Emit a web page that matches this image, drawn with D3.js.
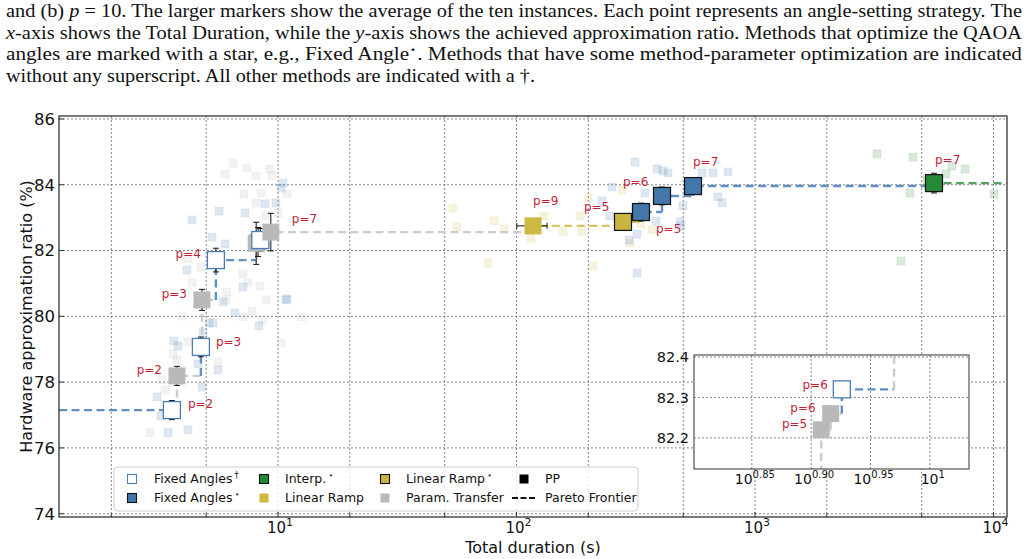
<!DOCTYPE html>
<html>
<head>
<meta charset="utf-8">
<script src="https://cdn.jsdelivr.net/npm/d3@7"></script>
<style>
  body { margin: 0; background: #fff; }
  svg { display: block; }
  text { font-family: "DejaVu Sans", sans-serif; }
  .caption { font-family: "Liberation Serif", serif; font-size: 18.5px; fill: #111; }
</style>
</head>
<body>
<div id="chart"></div>
<script>
// ---- data ----
// averaged markers: method, p, total duration (s), approx ratio (%), errors
const avgPoints = [
  { method: "faDag", p: 2, dur: 3.59, ratio: 77.15, yErr: 0.29 },
  { method: "paramTransfer", p: 2, dur: 3.77, ratio: 78.19, yErr: 0.29 },
  { method: "faDag", p: 3, dur: 4.75, ratio: 79.07, yErr: 0.30 },
  { method: "paramTransfer", p: 3, dur: 4.80, ratio: 80.50, yErr: 0.32 },
  { method: "faDag", p: 4, dur: 5.49, ratio: 81.71, yErr: 0.36 },
  { method: "paramTransfer", p: 5, dur: 8.10, ratio: 82.22, yErr: 0.64 },
  { method: "paramTransfer", p: 6, dur: 8.25, ratio: 82.26, yErr: 0.44 },
  { method: "faDag", p: 6, dur: 8.43, ratio: 82.32, yErr: 0.35 },
  { method: "paramTransfer", p: 7, dur: 9.33, ratio: 82.56, yErr: 0.57 },
  { method: "linRamp", p: 9, dur: 117.3, ratio: 82.75, yErr: 0.2, xErr: 17 },
  { method: "linRampStar", p: 5, dur: 279.6, ratio: 82.87, yErr: 0.2 },
  { method: "faStar", p: 5, dur: 332.6, ratio: 83.17, yErr: 0.27 },
  { method: "faStar", p: 6, dur: 407.5, ratio: 83.66, yErr: 0.27 },
  { method: "faStar", p: 7, dur: 549.6, ratio: 83.96, yErr: 0.25 },
  { method: "interp", p: 7, dur: 5630, ratio: 84.05, yErr: 0.30 }
];

// individual instances (faint squares): [duration, ratio]
const faDagInstances = [
  [10.49, 84.05], [10.29, 83.90], [8.82, 83.42], [9.81, 83.45], [5.66, 83.20], [7.27, 83.14],
  [4.36, 82.93], [5.29, 82.41], [6.00, 82.20], [4.15, 81.41], [7.13, 80.89], [10.91, 80.53],
  [5.88, 80.44], [10.80, 80.50], [6.60, 80.10], [8.32, 79.71], [5.14, 79.80], [5.34, 79.80],
  [3.66, 79.25], [3.81, 79.10], [4.62, 78.55], [5.60, 78.37], [4.80, 77.85], [3.11, 77.55],
  [3.23, 76.97], [3.46, 76.46], [4.19, 76.55], [4.85, 79.50]
];
const paramTransferInstances = [
  [6.48, 84.66], [7.41, 84.51], [6.00, 84.33], [8.09, 84.27], [9.26, 84.48], [9.44, 84.27],
  [7.20, 83.72], [8.49, 83.75], [8.09, 83.45], [10.91, 83.72], [10.0, 83.14], [8.91, 83.05],
  [4.19, 81.74], [4.75, 81.50], [4.36, 81.02], [7.13, 81.29], [7.48, 81.02], [8.40, 80.92],
  [6.11, 80.74], [8.91, 80.50], [3.96, 80.01], [7.78, 80.16], [7.13, 79.98], [8.65, 79.89],
  [12.6, 79.98], [6.05, 80.50], [4.19, 79.22], [3.63, 78.86], [3.77, 78.67], [5.60, 78.61],
  [3.26, 78.07], [3.36, 77.76], [2.91, 76.46], [10.29, 79.19], [2.95, 75.06]
];
const linRampInstances = [
  [54.2, 83.29], [56.3, 82.72], [80.5, 82.90], [88.6, 82.66], [75.9, 81.62], [115.0, 82.38],
  [130.5, 83.05], [156.7, 82.57], [188.2, 82.57]
];
const linRampStarInstances = [
  [184.6, 83.05], [199.5, 83.60], [209.3, 81.53], [276.9, 83.84], [299.2, 82.23], [370.0, 82.63],
  [332.7, 82.81]
];
const faStarInstances = [
  [314.0, 84.69], [388.3, 84.48], [411.5, 84.42], [431.8, 84.36], [251.4, 83.93], [345.8, 83.75],
  [599.6, 84.36], [666.6, 84.36], [770.5, 84.39], [699.6, 83.63], [727.1, 83.45], [499.0, 83.36],
  [384.6, 82.90], [484.7, 82.87], [489.4, 82.75], [320.1, 82.50], [296.3, 82.32], [320.1, 81.32],
  [228.3, 83.51], [246.6, 83.05]
];
const interpInstances = [
  [3247, 84.94], [4597, 84.84], [6320, 84.33], [6699, 84.57], [7594, 84.48], [4466, 83.75],
  [10050, 83.72], [4093, 81.68], [5262, 84.15]
];

const yTicks = [74, 76, 78, 80, 82, 84, 86];
const xGridValues = [2, 5, 10, 20, 50, 100, 200, 500, 1000, 2000, 5000, 10000];
const xMajorTicks = [10, 100, 1000, 10000];
const insetXTicks = [0.85, 0.90, 0.95, 1];   // exponents of ten
const insetYTicks = [82.2, 82.3, 82.4];
const insetPoints = [["paramTransfer", 5], ["paramTransfer", 6], ["faDag", 6]];

const legendItems = [
  { key: "faDag", label: "Fixed Angles", sup: "†" },
  { key: "faStar", label: "Fixed Angles", sup: "⋆" },
  { key: "interp", label: "Interp.", sup: "⋆" },
  { key: "linRamp", label: "Linear Ramp", sup: "" },
  { key: "linRampStar", label: "Linear Ramp", sup: "⋆" },
  { key: "paramTransfer", label: "Param. Transfer", sup: "" },
  { key: "pp", label: "PP", sup: "" },
  { key: "frontier", label: "Pareto Frontier", sup: "" }
];

const captionLines = [
  [["and (b) ", ""], ["p", "i"], [" = 10. The larger markers show the average of the ten instances. Each point represents an angle-setting strategy. The", ""]],
  [["x", "i"], ["-axis shows the Total Duration, while the ", ""], ["y", "i"], ["-axis shows the achieved approximation ratio. Methods that optimize the QAOA", ""]],
  [["angles are marked with a star, e.g., Fixed Angle", ""], ["⋆", "s"], [".  Methods that have some method-parameter optimization are indicated", ""]],
  [["without any superscript. All other methods are indicated with a †.", ""]]
];
const captionWidths = [1016, 1016, 1016, 529];

// ---- styles ----
const style = {
  faDag: { fill: "#ffffff", stroke: "#4a7db5", line: "#5f8fc4", faint: "#4a7db5" },
  faStar: { fill: "#4376a9", stroke: "#111", line: "#5f8fc4", faint: "#4a7db5" },
  interp: { fill: "#258a37", stroke: "#111", line: "#52a55f", faint: "#2a8a3a" },
  linRamp: { fill: "#cdb941", stroke: "none", line: "#d7c75e", faint: "#cdb941" },
  linRampStar: { fill: "#c9b640", stroke: "#111", line: "#d7c75e", faint: "#cdb941" },
  paramTransfer: { fill: "#b9b9b9", stroke: "none", line: "#cccccc", faint: "#b9b9b9" }
};
const labelOffsets = {
  "faDag-2": [16, -6, "start"], "paramTransfer-2": [-15, -6, "end"],
  "faDag-3": [15, -5, "start"], "paramTransfer-3": [-15, -6, "end"],
  "faDag-4": [-15, -6, "end"], "paramTransfer-7": [21, -13, "start"],
  "linRamp-9": [0, -25, "start"], "linRampStar-5": [-39, -15, "start"],
  "faStar-5": [15, 17, "start"], "faStar-6": [-39, -14, "start"],
  "faStar-7": [0, -24, "start"], "interp-7": [1, -23, "start"]
};
const insetLabelOffsets = {
  "faDag-6": [-14, -5, "end"], "paramTransfer-6": [-15, -6, "end"], "paramTransfer-5": [-14, -6, "end"]
};

const W = 1028, H = 559;
const M = { left: 59, right: 1007, top: 116, bottom: 517 };
const MS = 17;   // big marker size
const FS = 8;    // faint marker size

const svg = d3.select("#chart").append("svg").attr("width", W).attr("height", H);

// caption
captionLines.forEach((parts, i) => {
  const t = svg.append("text").attr("class", "caption")
    .attr("x", 6).attr("y", 17 + i * 21.5)
    .attr("textLength", captionWidths[i]).attr("lengthAdjust", "spacingAndGlyphs");
  let raised = false;
  parts.forEach(([s, f]) => {
    const ts = t.append("tspan").text(s);
    if (f === "i") ts.attr("font-style", "italic");
    if (f === "s") { ts.attr("font-size", 11).attr("dy", -7); raised = true; }
    else if (raised) { ts.attr("dy", 7); raised = false; }
  });
});

const x = d3.scaleLog().domain([1.207, 11393]).range([M.left, M.right]);
const y = d3.scaleLinear().domain([73.9, 86.09]).range([M.bottom, M.top]);

const plot = svg.append("g");
plot.append("clipPath").attr("id", "clipMain").append("rect")
  .attr("x", M.left).attr("y", M.top).attr("width", M.right - M.left).attr("height", M.bottom - M.top);

// grid
const grid = plot.append("g").attr("stroke", "#666").attr("stroke-width", 0.8).attr("stroke-dasharray", "2,2");
grid.selectAll("line.v").data(xGridValues).join("line")
  .attr("x1", d => x(d)).attr("x2", d => x(d)).attr("y1", M.top).attr("y2", M.bottom);
grid.selectAll("line.h").data(yTicks).join("line")
  .attr("y1", d => y(d)).attr("y2", d => y(d)).attr("x1", M.left).attr("x2", M.right);

const body = plot.append("g").attr("clip-path", "url(#clipMain)");

// faint instances
function drawInstances(g, data, key, sx, sy) {
  const c = style[key].faint;
  g.append("g").selectAll("rect").data(data).join("rect")
    .attr("x", d => sx(d[0]) - FS / 2).attr("y", d => sy(d[1]) - FS / 2)
    .attr("width", FS).attr("height", FS)
    .attr("fill", c).attr("fill-opacity", 0.18)
    .attr("stroke", c).attr("stroke-opacity", 0.1).attr("stroke-width", 1);
}
drawInstances(body, paramTransferInstances, "paramTransfer", x, y);
drawInstances(body, faDagInstances, "faDag", x, y);
drawInstances(body, linRampInstances, "linRamp", x, y);
drawInstances(body, linRampStarInstances, "linRampStar", x, y);
drawInstances(body, faStarInstances, "faStar", x, y);
drawInstances(body, interpInstances, "interp", x, y);

// pareto frontier (step)
const frontier = [];
[...avgPoints].sort((a, b) => a.dur - b.dur).forEach(d => {
  if (!frontier.length || d.ratio > frontier[frontier.length - 1].ratio) frontier.push(d);
});
function drawFrontier(g, sx, sy, xmin, xmax) {
  frontier.forEach((d, i) => {
    const next = frontier[i + 1];
    const xEnd = next ? sx(next.dur) : xmax;
    let path;
    if (i === 0) path = `M${xmin},${sy(d.ratio)} L${xEnd},${sy(d.ratio)}`;
    else path = `M${sx(d.dur)},${sy(frontier[i - 1].ratio)} L${sx(d.dur)},${sy(d.ratio)} L${xEnd},${sy(d.ratio)}`;
    g.append("path").attr("d", path).attr("fill", "none")
      .attr("stroke", style[d.method].line).attr("stroke-width", 2.4)
      .attr("stroke-dasharray", "8,4.5");
  });
}
drawFrontier(body, x, y, M.left, M.right);

// error bars
const eb = body.append("g").attr("stroke", "#111").attr("stroke-width", 1);
avgPoints.forEach(d => {
  const cx = x(d.dur), cy = y(d.ratio);
  if (d.yErr) {
    const y1 = y(d.ratio + d.yErr), y2 = y(d.ratio - d.yErr);
    eb.append("line").attr("x1", cx).attr("x2", cx).attr("y1", y1).attr("y2", y2);
    eb.append("line").attr("x1", cx - 3).attr("x2", cx + 3).attr("y1", y1).attr("y2", y1);
    eb.append("line").attr("x1", cx - 3).attr("x2", cx + 3).attr("y1", y2).attr("y2", y2);
  }
  if (d.xErr) {
    const x1 = x(d.dur - d.xErr), x2 = x(d.dur + d.xErr);
    eb.append("line").attr("x1", x1).attr("x2", x2).attr("y1", cy).attr("y2", cy);
    eb.append("line").attr("x1", x1).attr("x2", x1).attr("y1", cy - 3).attr("y2", cy + 3);
    eb.append("line").attr("x1", x2).attr("x2", x2).attr("y1", cy - 3).attr("y2", cy + 3);
  }
});

// big markers
function drawMarkers(g, data, sx, sy) {
  g.append("g").selectAll("rect").data(data).join("rect")
    .attr("x", d => sx(d.dur) - MS / 2).attr("y", d => sy(d.ratio) - MS / 2)
    .attr("width", MS).attr("height", MS)
    .attr("fill", d => style[d.method].fill)
    .attr("stroke", d => style[d.method].stroke)
    .attr("stroke-width", d => d.method === "faDag" ? 1.3 : 1.2);
}
drawMarkers(body, avgPoints, x, y);

// p labels
function drawLabels(g, offsets, sx, sy) {
  avgPoints.forEach(d => {
    const o = offsets[`${d.method}-${d.p}`];
    if (!o) return;
    g.append("text").attr("x", sx(d.dur) + o[0]).attr("y", sy(d.ratio) + o[1])
      .attr("dy", "0.35em").attr("text-anchor", o[2])
      .attr("font-size", 12).attr("fill", "#c41e3a").text(`p=${d.p}`);
  });
}
drawLabels(plot, labelOffsets, x, y);

// frame
plot.append("rect").attr("x", M.left).attr("y", M.top).attr("width", M.right - M.left)
  .attr("height", M.bottom - M.top).attr("fill", "none").attr("stroke", "#333").attr("stroke-width", 1.3);

// ticks (inward)
const tk = plot.append("g").attr("stroke", "#333").attr("stroke-width", 1);
tk.selectAll("line.x").data(xGridValues).join("line")
  .attr("x1", d => x(d)).attr("x2", d => x(d))
  .attr("y1", M.bottom).attr("y2", d => M.bottom - (xMajorTicks.includes(d) ? 5 : 3.5));
tk.selectAll("line.y").data(yTicks).join("line")
  .attr("x1", M.left).attr("x2", M.left + 5).attr("y1", d => y(d)).attr("y2", d => y(d));

plot.append("g").selectAll("text").data(yTicks).join("text")
  .attr("x", M.left - 4).attr("y", d => y(d)).attr("dy", "0.36em")
  .attr("text-anchor", "end").attr("font-size", 16.5).attr("fill", "#111").text(d => d);

const xl = plot.append("g").selectAll("text").data(xMajorTicks).join("text")
  .attr("x", d => x(d) + 2).attr("y", M.bottom + 15.5).attr("text-anchor", "middle")
  .attr("font-size", 15).attr("fill", "#111");
xl.append("tspan").text("10");
xl.append("tspan").attr("dy", -6.5).attr("font-size", 11).text(d => Math.round(Math.log10(d)));

svg.append("text").attr("transform", `translate(26,${(M.top + M.bottom) / 2}) rotate(-90)`)
  .attr("text-anchor", "middle").attr("dy", "0.35em").attr("font-size", 16).attr("fill", "#111")
  .text("Hardware approximation ratio (%)");
svg.append("text").attr("x", (M.left + M.right) / 2).attr("y", 552.5)
  .attr("text-anchor", "middle").attr("font-size", 16).attr("fill", "#111")
  .text("Total duration (s)");

// legend
const lg = svg.append("g");
lg.append("rect").attr("x", 114).attr("y", 467).attr("width", 524).attr("height", 44).attr("rx", 4)
  .attr("fill", "#fff").attr("fill-opacity", 0.8).attr("stroke", "#d0d0d0");
const colMarker = [132, 264, 385, 524], colText = [154, 285, 406, 545], rowY = [479, 498];
legendItems.forEach((d, i) => {
  const c = Math.floor(i / 2), r = i % 2;
  const mx = colMarker[c], my = rowY[r];
  if (d.key === "frontier") {
    lg.append("line").attr("x1", mx - 12).attr("x2", mx + 12).attr("y1", my).attr("y2", my)
      .attr("stroke", "#111").attr("stroke-width", 1.8).attr("stroke-dasharray", "6,2.5");
  } else {
    const s = d.key === "pp" ? { fill: "#000", stroke: "none" } : style[d.key];
    lg.append("rect").attr("x", mx - 4.5).attr("y", my - 4.5).attr("width", 9).attr("height", 9)
      .attr("fill", s.fill).attr("stroke", s.stroke).attr("stroke-width", 1.1);
  }
  const t = lg.append("text").attr("x", colText[c]).attr("y", my).attr("dy", "0.35em")
    .attr("font-size", 12.5).attr("fill", "#111");
  t.append("tspan").text(d.label);
  if (d.sup) t.append("tspan").attr("dx", 2).attr("dy", -5).attr("font-size", 8.5).text(d.sup);
});

// inset
const I = { left: 694, right: 969, top: 355, bottom: 469 };
const ix = d3.scaleLog().domain([6.328, 10.79]).range([I.left, I.right]);
const iy = d3.scaleLinear().domain([82.123, 82.405]).range([I.bottom, I.top]);
const inset = svg.append("g");
inset.append("clipPath").attr("id", "clipInset").append("rect")
  .attr("x", I.left).attr("y", I.top).attr("width", I.right - I.left).attr("height", I.bottom - I.top);
inset.append("rect").attr("x", I.left).attr("y", I.top).attr("width", I.right - I.left)
  .attr("height", I.bottom - I.top).attr("fill", "#fff");
const ig = inset.append("g").attr("stroke", "#666").attr("stroke-width", 0.8).attr("stroke-dasharray", "2,2");
ig.selectAll("line.v").data(insetXTicks).join("line")
  .attr("x1", d => ix(Math.pow(10, d))).attr("x2", d => ix(Math.pow(10, d))).attr("y1", I.top).attr("y2", I.bottom);
ig.selectAll("line.h").data(insetYTicks).join("line")
  .attr("y1", d => iy(d)).attr("y2", d => iy(d)).attr("x1", I.left).attr("x2", I.right);
const ib = inset.append("g").attr("clip-path", "url(#clipInset)");
drawFrontier(ib, ix, iy, I.left, I.right);
const insetData = avgPoints.filter(d => insetPoints.some(([m, p]) => m === d.method && p === d.p));
drawMarkers(ib, insetData, ix, iy);
drawLabels(inset, insetLabelOffsets, ix, iy);
inset.append("rect").attr("x", I.left).attr("y", I.top).attr("width", I.right - I.left)
  .attr("height", I.bottom - I.top).attr("fill", "none").attr("stroke", "#444").attr("stroke-width", 1.1);
inset.append("g").selectAll("text").data(insetYTicks).join("text")
  .attr("x", I.left - 5).attr("y", d => iy(d)).attr("dy", "0.36em").attr("text-anchor", "end")
  .attr("font-size", 14.5).attr("fill", "#111").text(d => d.toFixed(1));
const ixl = inset.append("g").selectAll("text").data(insetXTicks).join("text")
  .attr("x", d => ix(Math.pow(10, d)) + 3).attr("y", I.bottom + 15).attr("text-anchor", "middle")
  .attr("font-size", 14).attr("fill", "#111");
ixl.append("tspan").text("10");
ixl.append("tspan").attr("dy", -6).attr("font-size", 10).text(d => d === 1 ? "1" : d.toFixed(2));
</script>
</body>
</html>
